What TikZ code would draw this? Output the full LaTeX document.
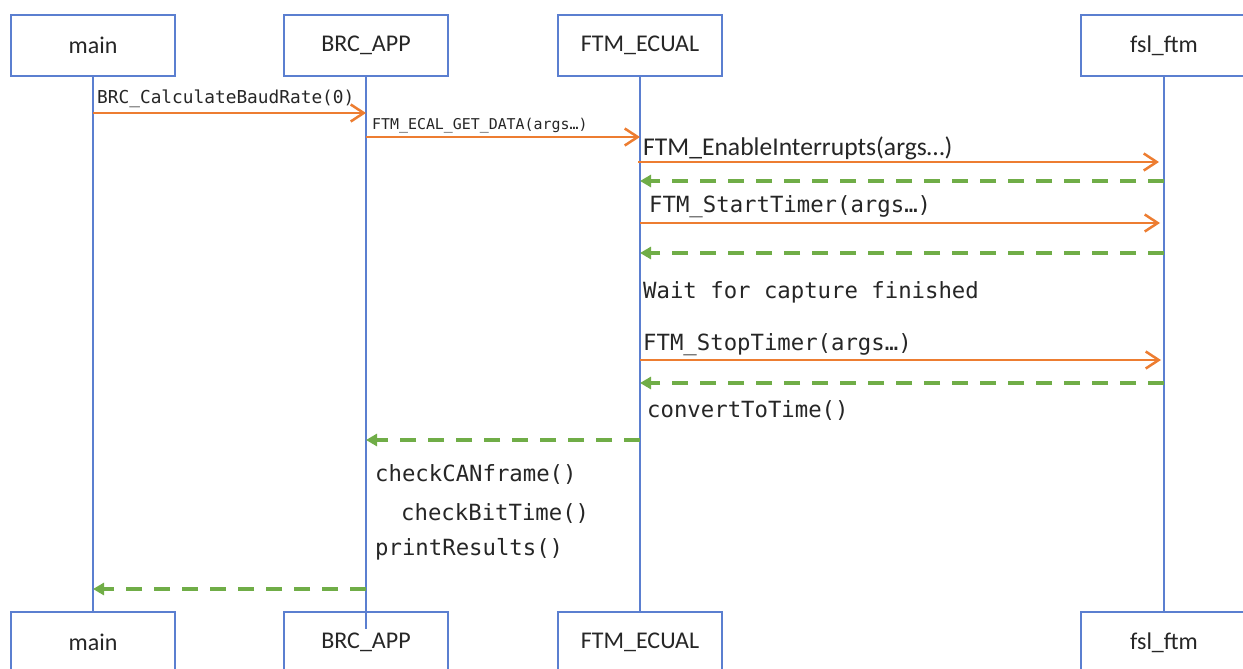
\documentclass[tikz,border=0pt]{standalone}
\usepackage{fontspec}
\setmainfont{Carlito}
\newfontfamily\codefont{DejaVu Sans Mono}
\usetikzlibrary{arrows.meta}
\definecolor{lifeblue}{HTML}{5B7FD0}
\definecolor{callorange}{HTML}{ED7D31}
\definecolor{retgreen}{HTML}{70AD47}
\definecolor{ink}{HTML}{262626}

\begin{document}
\begin{tikzpicture}[x=1pt,y=-1pt,
  actor/.style={draw=lifeblue, line width=1.4pt, fill=white,
    minimum width=164pt, minimum height=61pt, inner sep=0pt,
    font=\fontsize{24}{28}\selectfont, text=ink},
  lifeline/.style={draw=lifeblue, line width=1.4pt},
  call/.style={draw=callorange, line width=2.7pt,
    -{Straight Barb[length=13pt,width=17pt,line width=2.5pt]}},
  ret/.style={draw=retgreen, line width=4pt, dash pattern=on 16pt off 12pt,
    -{Triangle[length=11pt,width=12pt]}},
  code/.style={anchor=base west, inner sep=0pt, text=ink,
    font=\codefont\fontsize{22.3}{26}\selectfont},
  codesmall/.style={code, font=\codefont\fontsize{17.8}{20}\selectfont},
  codetiny/.style={code, font=\codefont\fontsize{14.9}{17}\selectfont},
  plain/.style={anchor=base west, inner sep=0pt, text=ink,
    font=\fontsize{25.6}{30}\selectfont}]

% page area
\fill[white] (0,0) rectangle (1243,669);
\useasboundingbox (0,0) rectangle (1243,669);

% participants, top row
\node[actor] (mainT) at (93,45.5)   {main};
\node[actor] (brcT)  at (366,45.5)  {BRC\_APP};
\node[actor] (ftmT)  at (640,45.5)  {FTM\_ECUAL};
\node[actor, minimum width=166pt] (fslT) at (1164,45.5) {fsl\_ftm};

% participants, bottom row
\node[actor] (mainB) at (93,642.5)   {main};
\node[actor] (brcB)  at (366,642.5)  {BRC\_APP};
\node[actor] (ftmB)  at (640,642.5)  {FTM\_ECUAL};
\node[actor, minimum width=166pt] (fslB) at (1164,642.5) {fsl\_ftm};

% lifelines
\draw[lifeline] (mainT.south) -- (mainB.north);
\draw[lifeline] (brcT.south)  -- ([yshift=-18pt]brcB.north);
\draw[lifeline] (ftmT.south)  -- (ftmB.north);
\draw[lifeline] (fslT.south)  -- (fslB.north);

% main -> BRC_APP
\node[codesmall] (lCalc) at (97,103) {BRC\_CalculateBaudRate(0)};
\draw[call] (mainT.south |- 0,113) -- (brcT.south |- 0,113);

% BRC_APP -> FTM_ECUAL
\node[codetiny] (lGet) at (372,129) {FTM\_ECAL\_GET\_DATA(args…)};
\draw[call] (brcT.south |- 0,137) -- (ftmT.south |- 0,137);

% FTM_ECUAL <-> fsl_ftm
\node[plain] (lEnable) at (643,155) {FTM\_EnableInterrupts(args…)};
\draw[call, shorten >=5pt] ([xshift=-2pt]ftmT.south |- 0,162) -- (fslT.south |- 0,162);
\draw[ret] (fslT.south |- 0,181) -- (ftmT.south |- 0,181);

\node[code] (lStart) at (649,212) {FTM\_StartTimer(args…)};
\draw[call, shorten >=4pt] (ftmT.south |- 0,223) -- (fslT.south |- 0,223);
\draw[ret] (fslT.south |- 0,253) -- (ftmT.south |- 0,253);

\node[code] (lWait) at (643,298) {Wait for capture finished};

\node[code] (lStop) at (643,350) {FTM\_StopTimer(args…)};
\draw[call, shorten >=3pt] (ftmT.south |- 0,360) -- (fslT.south |- 0,360);
\draw[ret] (fslT.south |- 0,383) -- (ftmT.south |- 0,383);

\node[code] (lConv) at (647,417) {convertToTime()};

% FTM_ECUAL -> BRC_APP
\draw[ret] (ftmT.south |- 0,440) -- (brcT.south |- 0,440);

\node[code] (lCheckCan) at (375,481) {checkCANframe()};
\node[code] (lCheckBit) at (401,520) {checkBitTime()};
\node[code] (lPrint)    at (375,555) {printResults()};

% BRC_APP -> main
\draw[ret] (brcT.south |- 0,589) -- (mainT.south |- 0,589);

\end{tikzpicture}
\end{document}
